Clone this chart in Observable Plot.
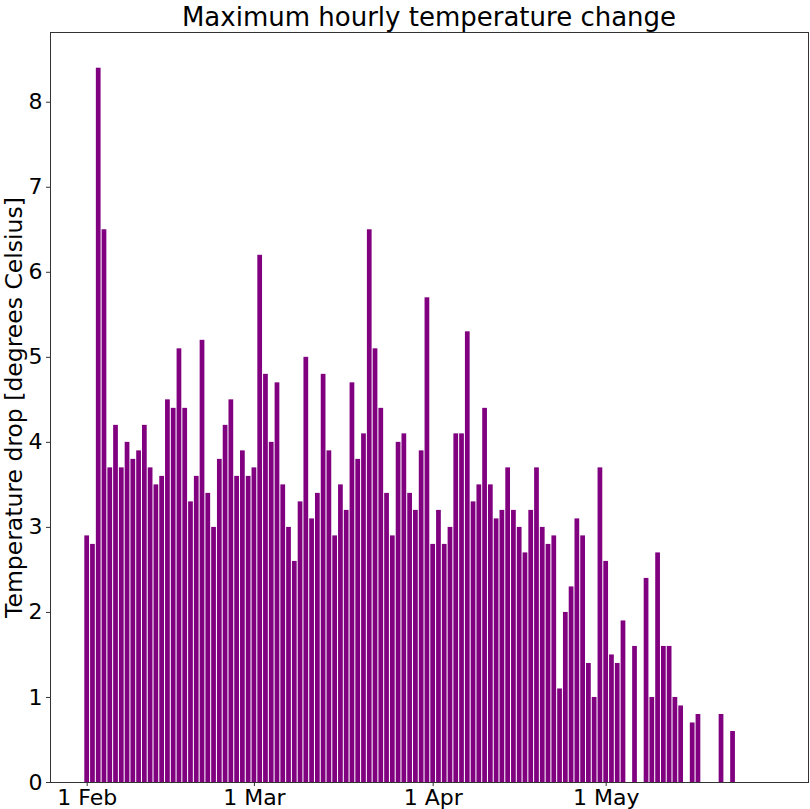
<!DOCTYPE html>
<html>
<head>
<meta charset="utf-8">
<script src="https://cdn.jsdelivr.net/npm/d3@7"></script>
<script src="https://cdn.jsdelivr.net/npm/@observablehq/plot@0.6"></script>
<style>
  body { margin: 0; background: #fff; font-family: "DejaVu Sans", sans-serif; }
  #title { margin-left: 50px; width: 758px; height: 28px; padding-top: 3px; line-height: 28px; text-align: center; font-size: 26px; color: #000; white-space: nowrap; overflow: visible; }
  svg { display: block; }
</style>
</head>
<body>
<div id="title">Maximum hourly temperature change</div>
<div id="chart"></div>
<script>
// Days of month (year 2020) and maximum hourly temperature drop values
const febDays = [1,2,3,4,5,6,7,8,9,10,11,12,13,14,15,16,17,18,19,20,21,22,23,24,25,26,27,28,29];
const febValues = [2.9,2.8,8.4,6.5,3.7,4.2,3.7,4.0,3.8,3.9,4.2,3.7,3.5,3.6,4.5,4.4,5.1,4.4,3.3,3.6,5.2,3.4,3.0,3.8,4.2,4.5,3.6,3.9,3.6];
const marDays = [1,2,3,4,5,6,7,8,9,10,11,12,13,14,15,16,17,18,19,20,21,22,23,24,25,26,27,28,29,30,31];
const marValues = [3.7,6.2,4.8,4.0,4.7,3.5,3.0,2.6,3.3,5.0,3.1,3.4,4.8,3.9,2.9,3.5,3.2,4.7,3.8,4.1,6.5,5.1,4.4,3.4,2.9,4.0,4.1,3.4,3.2,3.9,5.7];
const aprDays = [1,2,3,4,5,6,7,8,9,10,11,12,13,14,15,16,17,18,19,20,21,22,23,24,25,26,27,28,29,30];
const aprValues = [2.8,3.2,2.8,3.0,4.1,4.1,5.3,3.3,3.5,4.4,3.5,3.1,3.2,3.7,3.2,3.0,2.7,3.2,3.7,3.0,2.8,2.9,1.1,2.0,2.3,3.1,2.9,1.4,1.0,3.7];
const mayDays = [1,2,3,4,6,8,9,10,11,12,13,14,16,17,21,23];
const mayValues = [2.6,1.5,1.4,1.9,1.6,2.4,1.0,2.7,1.6,1.6,1.0,0.9,0.7,0.8,0.8,0.6];

const xTickDates = ["2020-02-01","2020-03-01","2020-04-01","2020-05-01"];
const yTicks = [0,1,2,3,4,5,6,7,8];
const yLabel = "Temperature drop [degrees Celsius]";

const months = [[1, febDays, febValues],[2, marDays, marValues],[3, aprDays, aprValues],[4, mayDays, mayValues]];
const data = [];
for (const [m, days, vals] of months) {
  days.forEach((d, i) => data.push({date: new Date(Date.UTC(2020, m, d)), value: vals[i]}));
}
const DAY = 864e5;
const fmt = d3.utcFormat("%-d %b");

const chart = Plot.plot({
  width: 810,
  height: 778,
  marginLeft: 50,
  marginRight: 2,
  marginTop: 1,
  marginBottom: 27,
  style: {fontFamily: "DejaVu Sans", fontSize: "22px", color: "#000", background: "#fff", overflow: "visible"},
  x: {type: "utc", domain: [new Date(Date.UTC(2020, 0, 25, 15, 20)), new Date(Date.UTC(2020, 5, 5, 2))]},
  y: {domain: [0, 8.82]},
  marks: [
    Plot.rectY(data, {
      x1: d => new Date(+d.date - 0.41 * DAY),
      x2: d => new Date(+d.date + 0.41 * DAY),
      y: "value",
      fill: "#800080"
    }),
    Plot.frame({stroke: "#333", strokeWidth: 1}),
    Plot.axisX({ticks: xTickDates.map(s => new Date(s)), tickFormat: fmt, tickSize: 4, tickPadding: 3, label: null, fontSize: 22, stroke: "#333"}),
    Plot.axisY({ticks: yTicks, tickSize: 4, tickPadding: 4, label: null, fontSize: 22, stroke: "#333"}),
    Plot.axisY({ticks: [], tickSize: 0, label: yLabel, labelAnchor: "center", labelArrow: "none", labelOffset: 45, fontSize: 23.5})
  ]
});
document.getElementById("chart").appendChild(chart);
</script>
</body>
</html>
